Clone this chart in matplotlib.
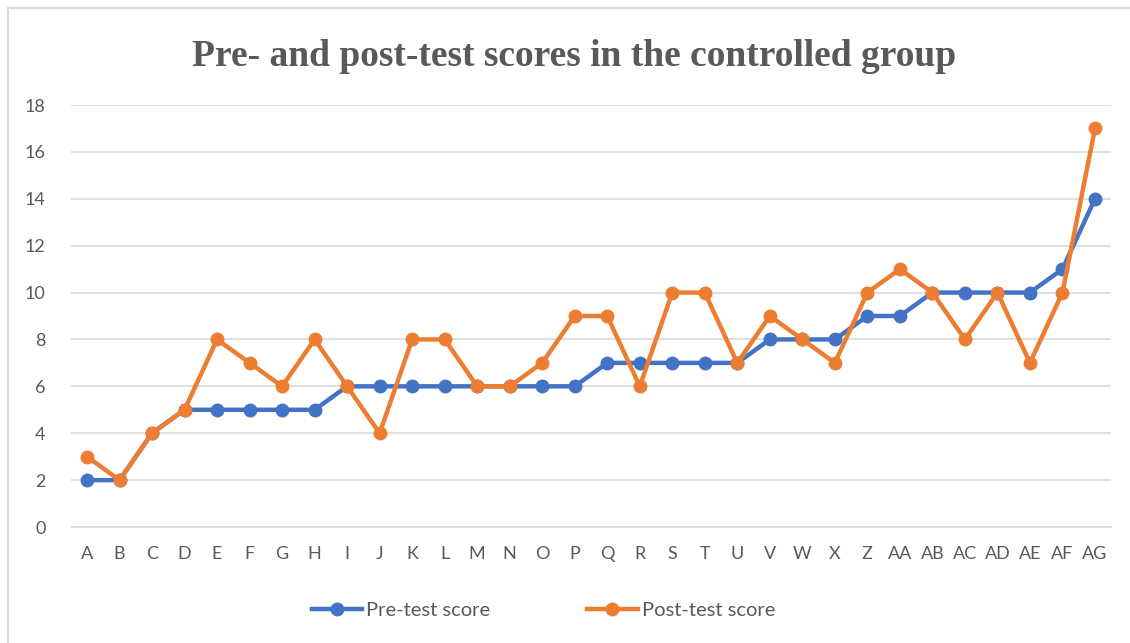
import matplotlib
matplotlib.use('Agg')
import matplotlib.pyplot as plt
from matplotlib.patches import Rectangle

# data (no "Y" category in the original)
students = ['A', 'B', 'C', 'D', 'E', 'F', 'G', 'H', 'I', 'J', 'K', 'L', 'M', 'N', 'O', 'P',
            'Q', 'R', 'S', 'T', 'U', 'V', 'W', 'X', 'Z', 'AA', 'AB', 'AC', 'AD', 'AE', 'AF', 'AG']
pre_test = [2, 2, 4, 5, 5, 5, 5, 5, 6, 6, 6, 6, 6, 6, 6, 6,
            7, 7, 7, 7, 7, 8, 8, 8, 9, 9, 10, 10, 10, 10, 11, 14]
post_test = [3, 2, 4, 5, 8, 7, 6, 8, 6, 4, 8, 8, 6, 6, 7, 9,
             9, 6, 10, 10, 7, 9, 8, 7, 10, 11, 10, 8, 10, 7, 10, 17]

plt.rcParams['font.family'] = ['Lato', 'DejaVu Sans']

fig = plt.figure(figsize=(11.3, 6.43), dpi=100)
ax = fig.add_axes([0.0626, 0.1804, 0.9208, 0.6563])

# chart frame
fig.patches.append(Rectangle((8 / 1130, -0.01), 1.02, 1.0 - 8 / 643 + 0.01,
                             transform=fig.transFigure, fill=False,
                             edgecolor='#d9d9d9', linewidth=1.5))

x = range(len(students))
ax.plot(x, pre_test, color='#4472c4', linewidth=3.2, marker='o', markersize=9,
        label='Pre-test score', zorder=3)
ax.plot(x, post_test, color='#ed7d31', linewidth=3.2, marker='o', markersize=9,
        label='Post-test score', zorder=4)

ax.set_xlim(-0.5, len(students) - 0.5)
ax.set_ylim(0, 18)
ax.set_yticks(range(0, 19, 2))
ax.set_xticks(list(x))
ax.set_xticklabels(students)
ax.tick_params(axis='both', length=0, labelsize=13, labelcolor='#595959')
ax.tick_params(axis='x', pad=14)
ax.tick_params(axis='y', pad=18)
ax.grid(axis='y', color='#d9d9d9', linewidth=1.2)
ax.set_axisbelow(True)
for s in ['top', 'right', 'left']:
    ax.spines[s].set_visible(False)
ax.spines['bottom'].set_color('#d9d9d9')
ax.spines['bottom'].set_linewidth(1.2)

fig.text(0.508, 0.912, 'Pre- and post-test scores in the controlled group',
         ha='center', va='center', fontsize=27, fontweight='bold',
         family='Liberation Serif', color='#595959')

fig.legend(loc='center', bbox_to_anchor=(0.481, 0.05), ncol=2, frameon=False,
           fontsize=14.5, labelcolor='#595959', handlelength=2.5, columnspacing=4.8,
           handletextpad=0.2)

fig.savefig('out.png', dpi=100)
